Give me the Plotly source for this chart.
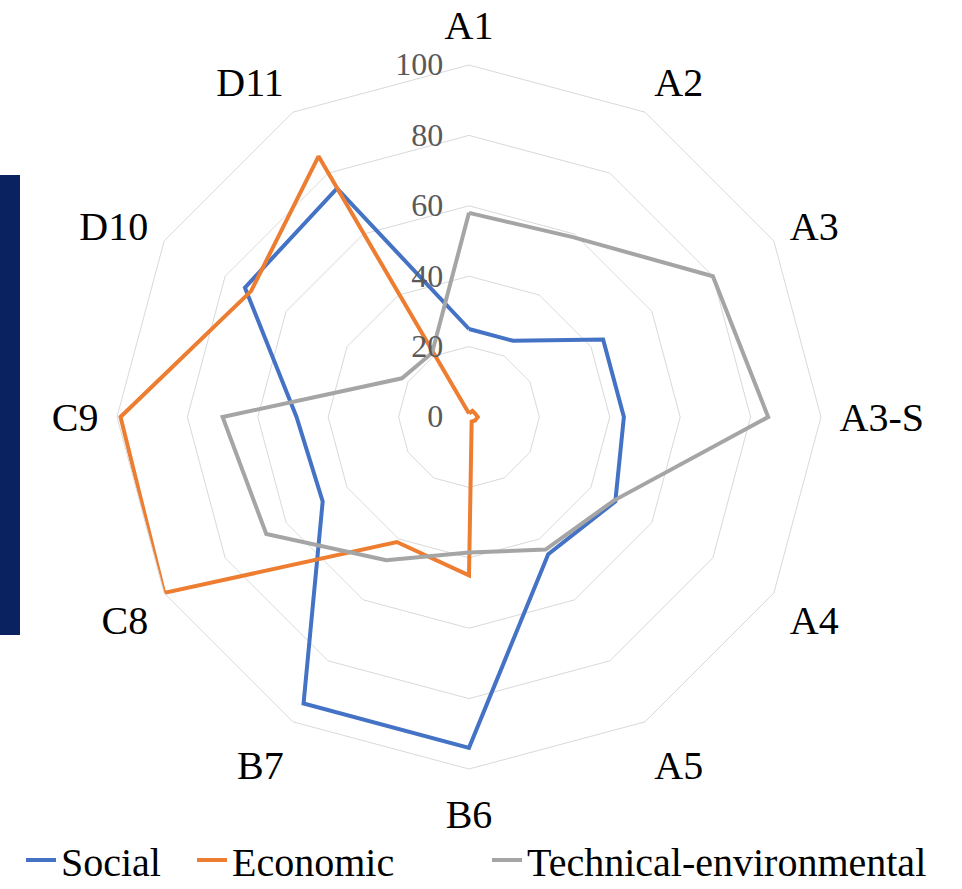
import plotly.graph_objects as go

# Indicators around the radar, clockwise from the top
categories = ["A1", "A2", "A3", "A3-S", "A4", "A5", "B6", "B7", "C8", "C9", "D10", "D11"]

# Scores (0-100) per dimension
social = [25, 25, 44, 44, 48, 45, 94, 94, 48, 49, 73.5, 75]
economic = [1, 2, 2, 2.5, 2, 1.5, 45, 41, 100, 99, 71.5, 85.5]
technical_env = [58, 59, 80, 85, 47.5, 43.5, 38.5, 47, 66.5, 70, 22, 21]

radial_ticks = [0, 20, 40, 60, 80, 100]

W, H = 962, 889
cx, cy, R = 469, 417, 352  # plot centre and outer radius in pixels

series = [
    ("Social", social, "#4472C4"),
    ("Economic", economic, "#ED7D31"),
    ("Technical-environmental", technical_env, "#A5A5A5"),
]
legend_left = [21, 192, 487]  # left edge of each legend entry, px

serif = "Times New Roman, Liberation Serif, DejaVu Serif, serif"

fig = go.Figure()
for i, (name, vals, color) in enumerate(series):
    lg = "legend" if i == 0 else f"legend{i + 1}"
    fig.add_trace(go.Scatterpolar(
        r=vals + vals[:1],
        theta=categories + categories[:1],
        mode="lines",
        name=name,
        legend=lg,
        showlegend=True,
        line=dict(color=color, width=4),
    ))

legend_style = dict(
    orientation="h",
    xanchor="left",
    y=-0.004, yanchor="bottom",
    font=dict(family=serif, size=40, color="black"),
    bgcolor="rgba(0,0,0,0)",
    borderwidth=0,
)

fig.update_layout(
    width=W, height=H,
    margin=dict(l=0, r=0, t=0, b=0, autoexpand=False),
    showlegend=True,
    paper_bgcolor="white",
    plot_bgcolor="white",
    font=dict(family=serif, color="black"),
    polar=dict(
        domain=dict(
            x=[(cx - R) / W, (cx + R) / W],
            y=[(H - cy - R) / H, (H - cy + R) / H],
        ),
        bgcolor="white",
        gridshape="linear",
        radialaxis=dict(
            range=[0, 100],
            tickvals=radial_ticks,
            ticktext=[str(v) for v in radial_ticks],
            angle=90,
            tickangle=90,
            side="counterclockwise",
            showline=False,
            ticks="outside",
            ticklen=14,
            tickcolor="rgba(0,0,0,0)",
            gridcolor="#D9D9D9",
            gridwidth=1,
            tickfont=dict(family=serif, size=32, color="#595959"),
        ),
        angularaxis=dict(
            direction="clockwise",
            rotation=90,
            showgrid=False,
            showline=True,
            linecolor="#D9D9D9",
            linewidth=1,
            ticks="outside",
            ticklen=10,
            tickcolor="rgba(0,0,0,0)",
            tickfont=dict(family=serif, size=40, color="black"),
        ),
    ),
    legend=dict(legend_style, x=legend_left[0] / W),
    legend2=dict(legend_style, x=legend_left[1] / W),
    legend3=dict(legend_style, x=legend_left[2] / W),
    shapes=[
        dict(
            type="rect", xref="paper", yref="paper",
            x0=0, x1=20 / W,
            y0=(H - 635) / H, y1=(H - 175) / H,
            fillcolor="#0A2260", line=dict(width=0),
        )
    ],
)

fig.write_html("out.html")
